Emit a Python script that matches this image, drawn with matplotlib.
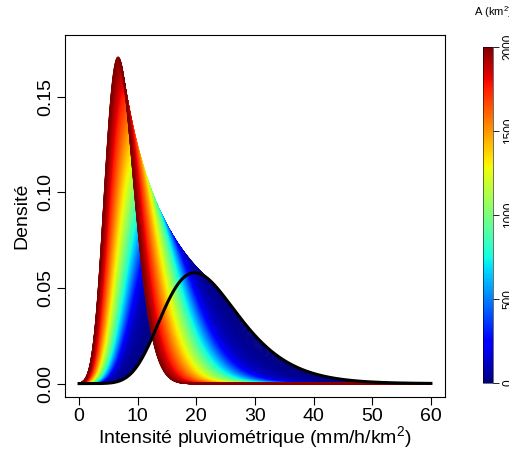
import numpy as np
import matplotlib
matplotlib.use("Agg")
import matplotlib.pyplot as plt
from matplotlib.collections import LineCollection
from matplotlib.colors import Normalize
from matplotlib.cm import ScalarMappable

plt.rcParams["font.family"] = ["Liberation Sans", "DejaVu Sans"]
plt.rcParams["mathtext.default"] = "regular"

# GEV (location, scale, shape, height factor)
PARAMS_A0 = (19.37, 6.35, -0.05, 1.00)     # black curve, A = 0
PARAMS_A2000 = (6.275, 2.333, -0.15, 1.07)  # dark red curve, A = 2000
# areal reduction, read off where the colour bands sit
ARF_JUMP, ARF_A1, ARF_SLOPE = 0.25, 60.0, 2.05e-4

AREAS = np.arange(0, 2001, 2)
INTENSITY = np.linspace(0, 60, 1201)
XTICKS = [0, 10, 20, 30, 40, 50, 60]
YTICKS = [0.00, 0.05, 0.10, 0.15]
YTICKLABELS = ["0.00", "0.05", "0.10", "0.15"]
CBAR_TICKS = [0, 500, 1000, 1500, 2000]


def gev_pdf(x, mu, sigma, xi):
    y = 1 + xi * (x - mu) / sigma
    out = np.zeros_like(x)
    ok = y > 0
    t = y[ok] ** (-1 / xi)
    out[ok] = t ** (xi + 1) * np.exp(-t) / sigma
    return out


def arf(a):
    return 1 - ARF_JUMP * (1 - np.exp(-a / ARF_A1)) - ARF_SLOPE * a


def curve(a):
    s = (1 - arf(a)) / (1 - arf(AREAS[-1]))
    mu, sig, xi, k = [p0 + s * (p1 - p0) for p0, p1 in zip(PARAMS_A0, PARAMS_A2000)]
    return k * gev_pdf(INTENSITY, mu, sig, xi)


fig = plt.figure(figsize=(5.1, 4.5), dpi=100)
ax = fig.add_axes([65 / 510, 53 / 450, 380 / 510, 362 / 450])

norm = Normalize(0, 2000)
cmap = plt.get_cmap("jet")

segs = [np.column_stack([INTENSITY, curve(a)]) for a in AREAS]
cols = [cmap(norm(a)) for a in AREAS]
ax.add_collection(LineCollection(segs, colors=cols, linewidths=0.9))

ax.plot(INTENSITY, curve(0), color="black", lw=2.2)

ax.set_xlim(-2.4, 62.4)
ax.set_ylim(-0.00701, 0.1823)
ax.set_xticks(XTICKS)
ax.set_yticks(YTICKS)
ax.set_yticklabels(YTICKLABELS, rotation=90, va="center")
ax.tick_params(labelsize=14, length=6, width=0.8, pad=2)
ax.set_xlabel("Intensité pluviométrique (mm/h/km$^2$)", fontsize=14, labelpad=-1)
ax.set_ylabel("Densité", fontsize=14, labelpad=5)
for s in ax.spines.values():
    s.set_linewidth(0.8)

cax = fig.add_axes([483 / 510, 67 / 450, 10 / 510, 336 / 450])
sm = ScalarMappable(norm=norm, cmap=cmap)
cb = fig.colorbar(sm, cax=cax, ticks=CBAR_TICKS)
cb.outline.set_linewidth(0.4)
cax.tick_params(labelsize=8.5, length=4, width=0.6, pad=3)
for lab in cax.get_yticklabels():
    lab.set_rotation(90)
    lab.set_va("center")
fig.text(474 / 510, 1 - 12 / 450, "A (km$^2$)", fontsize=8, ha="left", va="center")

fig.savefig("out.png", dpi=100)
